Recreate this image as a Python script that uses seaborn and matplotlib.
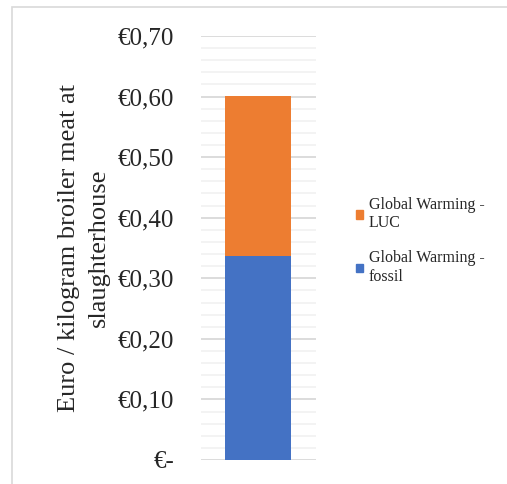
import pandas as pd
import seaborn as sns
import matplotlib.pyplot as plt
from matplotlib.patches import Rectangle, Patch
from matplotlib.ticker import MultipleLocator

# Data
category = ['Broiler meat']
fossil = [0.337]
luc = [0.264]
series_names = ['Global Warming -\nLUC', 'Global Warming -\nfossil']
tick_values = [0.0, 0.1, 0.2, 0.3, 0.4, 0.5, 0.6, 0.7]
tick_labels = ['€-', '€0,10', '€0,20', '€0,30', '€0,40', '€0,50', '€0,60', '€0,70']

blue = '#4472c4'
orange = '#ed7d31'

df = pd.DataFrame({'cat': category, 'fossil': fossil, 'luc': luc})
df['total'] = df['fossil'] + df['luc']

sns.set_style('white')
plt.rcParams['font.family'] = ['Liberation Serif', 'DejaVu Serif']

fig = plt.figure(figsize=(5.07, 4.84), dpi=100)
ax = fig.add_axes([0.396, 0.0496, 0.227, 0.876])

# stacked bar: total first, fossil on top of it
sns.barplot(data=df, x='cat', y='total', color=orange, width=0.574,
            saturation=1, linewidth=0, ax=ax, zorder=3)
sns.barplot(data=df, x='cat', y='fossil', color=blue, width=0.574,
            saturation=1, linewidth=0, ax=ax, zorder=3)

ax.set_xlim(-0.5, 0.5)
ax.set_ylim(0, 0.7)
ax.set_yticks(tick_values)
ax.set_yticklabels(tick_labels, fontsize=18)
ax.yaxis.set_minor_locator(MultipleLocator(0.02))
ax.grid(which='minor', axis='y', color='#f2f2f2', linewidth=1.3, zorder=0)
ax.grid(which='major', axis='y', color='#d9d9d9', linewidth=1.3, zorder=1)
ax.tick_params(axis='y', which='both', length=0, pad=19)
ax.set_xticks([])
ax.set_xlabel('')
ax.set_ylabel('Euro / kilogram broiler meat at\nslaughterhouse', fontsize=19,
              labelpad=6, linespacing=1.45)
for s in ax.spines.values():
    s.set_visible(False)

handles = [Patch(color=orange), Patch(color=blue)]
fig.legend(handles, series_names, loc='upper left',
           bbox_to_anchor=(0.686, 0.61), frameon=False, fontsize=11.5,
           handlelength=0.45, handleheight=0.45, handletextpad=0.35,
           labelspacing=1.2, borderpad=0)

# chart area border
fig.patches.append(Rectangle((12 / 507, -0.1), 1.2, 1 - 7 / 484 + 0.1,
                             transform=fig.transFigure, fill=False,
                             edgecolor='#d9d9d9', linewidth=1.2))

fig.savefig('out.png', dpi=100)
